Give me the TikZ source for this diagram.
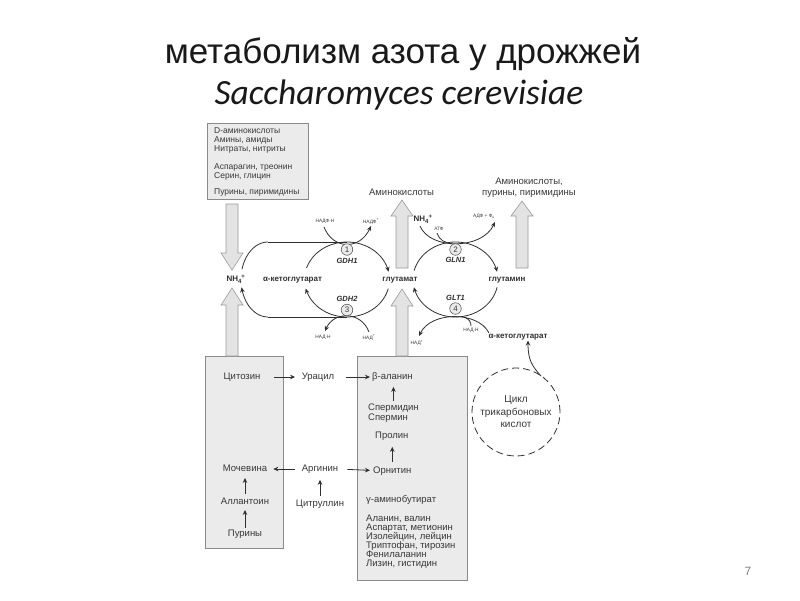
\documentclass[tikz,border=0pt]{standalone}
\usepackage{fontspec}
\setmainfont{Liberation Sans}
\newfontfamily\calfont{Carlito}
\usetikzlibrary{arrows.meta}
\definecolor{boxfill}{HTML}{EBEBEB}
\definecolor{boxline}{HTML}{8A8A8A}
\definecolor{arrfill}{HTML}{E3E3E3}
\definecolor{arrline}{HTML}{9A9A9A}
\definecolor{ink}{HTML}{303030}
\definecolor{txt}{HTML}{383838}
\newcommand\ammon{NH\textsubscript{4}\kern-0.05em\textsuperscript{+}}
\newcommand\tightlines{\lineskiplimit -10pt\relax}
\newcommand\mybarrow[4]{\draw[barrow] (#1-6,#2) -- (#1-6,#3) -- (#1-11,#3) -- (#1,#4) -- (#1+11,#3) -- (#1+6,#3) -- (#1+6,#2) -- cycle;}
\begin{document}
\begin{tikzpicture}[x=1pt,y=-1pt,
  every node/.style={inner sep=0pt, text=txt},
  lbl/.style={font=\fontsize{9.5}{9}\selectfont\tightlines},
  boxtxt/.style={font=\fontsize{8.5}{9}\selectfont},
  bl/.style={font=\bfseries\fontsize{8}{9}\selectfont, text=ink},
  enz/.style={font=\bfseries\itshape\fontsize{7.5}{8}\selectfont, text=ink},
  tiny/.style={font=\fontsize{4.8}{5}\selectfont},
  num/.style={circle, draw=ink!80, fill=boxfill, line width=0.6pt, minimum size=11.5pt, font=\fontsize{8}{8}\selectfont},
  ln/.style={draw=ink, line width=0.8pt},
  tip/.style={-{Stealth[length=5pt,width=4.5pt]}},
  gbox/.style={fill=boxfill, draw=boxline, line width=0.6pt},
  barrow/.style={fill=arrfill, draw=arrline, line width=0.6pt, line join=miter}]
\useasboundingbox[fill=white] (0,0) rectangle (800,600);

% title
\node[font=\fontsize{35}{38}\selectfont, text=black!90, anchor=base] (t1) at (403,63) {метаболизм азота у дрожжей};
\node[font=\calfont\itshape\fontsize{35.5}{38}\selectfont, text=black!90, anchor=base] (t2) at (399,104) {Saccharomyces cerevisiae};

% boxes
\draw[gbox] (207,123) rectangle (308,199);
\draw[gbox] (205,356) rectangle (283,548);
\draw[gbox] (357,356) rectangle (467,580);

% block arrows
\mybarrow{232}{204}{253}{270}
\mybarrow{232}{356}{305}{288}
\mybarrow{402}{356}{306}{289}
\mybarrow{402}{268}{216}{200}
\mybarrow{522}{268}{216}{201}

% top-left box text
\node[boxtxt, anchor=mid west] (s1) at (214,131) {D-аминокислоты};
\node[boxtxt, anchor=mid west] (s2) at (214,140) {Амины, амиды};
\node[boxtxt, anchor=mid west] (s3) at (214,148.5) {Нитраты, нитриты};
\node[boxtxt, anchor=mid west] (s4) at (214,166.5) {Аспарагин, треонин};
\node[boxtxt, anchor=mid west] (s5) at (214,175.5) {Серин, глицин};
\node[boxtxt, anchor=mid west] (s6) at (214,192) {Пурины, пиримидины};

% top labels
\node[lbl, anchor=mid] (aa1) at (401.5,193) {Аминокислоты};
\node[lbl, align=center, font=\fontsize{9.5}{11}\selectfont] (aa2) at (529,188) {Аминокислоты,\\пурины, пиримидины};

% left cycle
\draw[ln] (268,242) -- (347,242);
\draw[ln] (268,317) -- (347,317);
\draw[ln] plot[smooth, domain=90:164, samples=20, variable=\t] ({268+27*cos(\t)},{279.5-37.5*sin(\t)});
\draw[ln,tip] plot[smooth, domain=270:192, samples=20, variable=\t] ({268+27*cos(\t)},{279.5-37.5*sin(\t)});
\draw[ln,tip] plot[smooth, domain=162:12, samples=40, variable=\t] ({347+42.5*cos(\t)},{279.5-37.5*sin(\t)});
\draw[ln,tip] plot[smooth, domain=-14:-166, samples=40, variable=\t] ({347+42.5*cos(\t)},{279.5-37.5*sin(\t)});
\draw[ln,tip] (324,227) .. controls (333,250) and (360,250) .. (371,226);
\draw[ln,tip] (369,332) .. controls (361,311) and (334,311) .. (325,331);

% right cycle
\draw[ln,tip] plot[smooth, domain=166:12, samples=40, variable=\t] ({455.5+42.5*cos(\t)},{279.5-37.5*sin(\t)});
\draw[ln,tip] plot[smooth, domain=-12:-168, samples=40, variable=\t] ({455.5+42.5*cos(\t)},{279.5-37.5*sin(\t)});
\draw[ln,tip] (420,226) .. controls (430,250) and (482,250) .. (495,222);
\draw[ln] (437,233) .. controls (439,240) and (445,243) .. (452,243.5);
\draw[ln,tip] (489,333) .. controls (478,311) and (431,311) .. (419,336);
\draw[ln] (465,317.5) .. controls (469,319) and (471,322) .. (471,326);

% cycle labels
\node[bl, anchor=mid] (nh4a) at (236,279) {\ammon};
\node[bl, anchor=mid] (akg1) at (292.5,279) {α-кетоглутарат};
\node[bl, anchor=mid] (glu) at (400,279) {глутамат};
\node[bl, anchor=mid] (gln) at (507,279) {глутамин};
\node[bl, anchor=mid] (nh4b) at (423,219) {\ammon};
\node[bl, anchor=mid] (akg2) at (518,336) {α-кетоглутарат};

\node[tiny] (nadph1) at (325,221.5) {НАДФ·Н};
\node[tiny] (nadp1) at (371,221.5) {НАДФ\textsuperscript{+}};
\node[tiny] (nadh2) at (323,337.5) {НАД·Н};
\node[tiny] (nad2) at (369,337.5) {НАД\textsuperscript{+}};
\node[tiny] (atp) at (439,228.5) {АТФ};
\node[tiny] (adp) at (484,216) {АДФ + Ф\textsubscript{н}};
\node[tiny] (nadh4) at (471,330.5) {НАД·Н};
\node[tiny] (nad4) at (417,343) {НАД\textsuperscript{+}};

\node[num] (n1) at (347,249.5) {1};
\node[enz] (gdh1) at (347,261) {GDH1};
\node[enz] (gdh2) at (347,299) {GDH2};
\node[num] (n3) at (347,310) {3};
\node[num] (n2) at (455.5,249.5) {2};
\node[enz] (gln1) at (455.5,260) {GLN1};
\node[enz] (glt1) at (455.5,298) {GLT1};
\node[num] (n4) at (455.5,308.5) {4};

% TCA
\draw[ln, dash pattern=on 7pt off 4pt] (516,412) ellipse [x radius=44pt, y radius=44pt];
\coordinate (tcatop) at (541,376);
\node[align=center, font=\fontsize{10}{12.5}\selectfont] (tca) at (516,412) {Цикл\\трикарбоновых\\кислот};
\draw[ln,tip] (tcatop) .. controls (532,366) and (528,360) .. (akg2.south -| 528,0);

% bottom left box
\node[lbl, anchor=mid] (cyt) at (242,377) {Цитозин};
\node[lbl, anchor=mid] (moch) at (245,469) {Мочевина};
\node[lbl, anchor=mid] (allant) at (245,502) {Аллантоин};
\node[lbl, anchor=mid] (pur) at (245,534) {Пурины};
\node[lbl, anchor=mid] (ura) at (318,377) {Урацил};
\node[lbl, anchor=mid] (arg) at (320,469) {Аргинин};
\node[lbl, anchor=mid] (citr) at (320,504) {Цитруллин};

% bottom right box
\node[lbl, anchor=mid west] (bala) at (372,377) {β-аланин};
\node[lbl, anchor=north west, align=left, font=\fontsize{9.5}{10}\selectfont\tightlines] (sperm) at (368,403.5) {Спермидин\\Спермин};
\node[lbl, anchor=mid west] (prol) at (375,436) {Пролин};
\node[lbl, anchor=mid west] (orn) at (373,470.5) {Орнитин};
\node[lbl, anchor=mid west] (gaba) at (366,500) {γ-аминобутират};
\node[lbl, anchor=north west, align=left] (list) at (366,514.5) {Аланин, валин\\Аспартат, метионин\\Изолейцин, лейцин\\Триптофан, тирозин\\Фенилаланин\\Лизин, гистидин};

% bottom arrows
\draw[ln,tip,shorten <=13pt,shorten >=6.5pt] (cyt.mid east) -- (ura.mid west);
\draw[ln,tip,shorten <=12pt,shorten >=2pt] (ura.mid east) -- (bala.mid west);
\draw[ln,tip,shorten <=7pt,shorten >=6pt] (arg.mid west) -- (moch.mid east);
\draw[ln,tip,shorten <=9pt,shorten >=3pt] (arg.mid east) -- (orn.mid west);
\draw[ln,tip,shorten <=4pt,shorten >=6pt] (citr.north) -- (arg.south);
\draw[ln,tip,shorten <=4pt,shorten >=6pt] (allant.north) -- (moch.south);
\draw[ln,tip,shorten <=2pt,shorten >=5pt] (pur.north) -- (allant.south);
\draw[ln,tip,shorten <=3pt,shorten >=5pt] (sperm.north) -- (sperm.north |- bala.south);
\draw[ln,tip,shorten <=4pt,shorten >=6pt] (orn.north) -- (orn.north |- prol.south);

% page number
\node[font=\fontsize{12}{12}\selectfont, text=gray] (pg) at (748,571) {7};
\end{tikzpicture}
\end{document}
